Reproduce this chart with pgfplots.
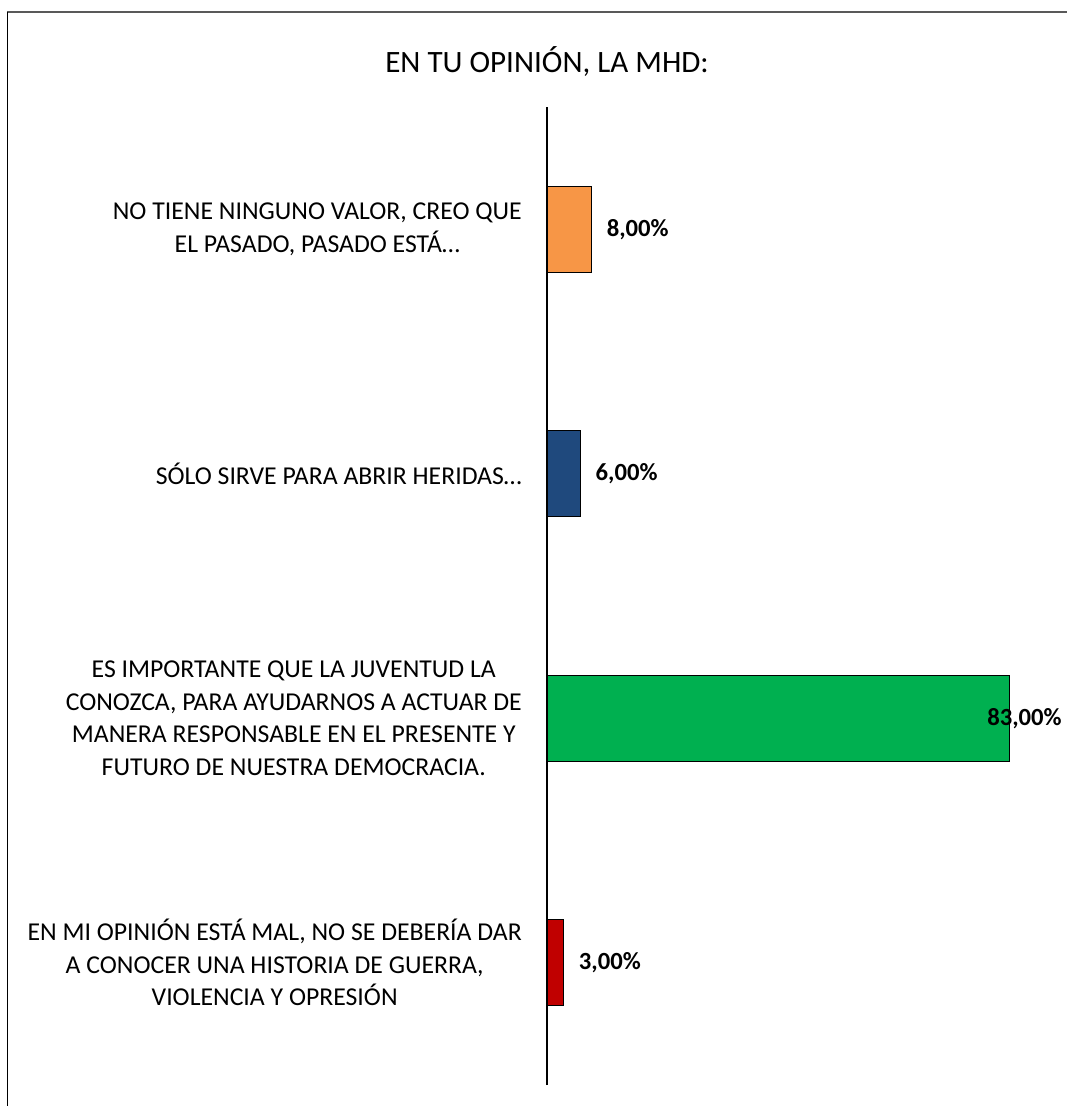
\documentclass[border=0pt]{standalone}
\usepackage{pgfplots}
\pgfplotsset{compat=1.18}
\usepackage{fontspec}
\setmainfont{Carlito}
\definecolor{cOrange}{HTML}{F79646}
\definecolor{cBlue}{HTML}{1F497D}
\definecolor{cGreen}{HTML}{00B050}
\definecolor{cRed}{HTML}{C00000}
\begin{document}
\begin{tikzpicture}[x=0.75pt,y=0.75pt]
\useasboundingbox (0,0) rectangle (1067,-1106);
\draw[gray!70!black, line width=1.2pt] (7,-12) -- (1067,-12);
\draw[black, line width=1.3pt] (7.5,-12) -- (7.5,-1106);
\node[font=\fontsize{23.3}{28}\selectfont] at (547,-62) {EN TU OPINIÓN, LA MHD:};
\begin{axis}[
  at={(410.25pt,-813.75pt)}, anchor=south west,
  scale only axis, width=376pt, height=733.5pt,
  xmin=0, xmax=90, ymin=-0.5, ymax=3.5,
  axis x line=none, axis y line*=left,
  y axis line style={-, black, line width=1.1pt},
  xbar, bar width=64.5pt,
  major tick length=0pt,
  ytick={0,1,2,3},
  yticklabels={
    {EN MI OPINIÓN ESTÁ MAL, NO SE DEBERÍA DAR\\A CONOCER UNA HISTORIA DE GUERRA,\\VIOLENCIA Y OPRESIÓN},
    {ES IMPORTANTE QUE LA JUVENTUD LA\\CONOZCA, PARA AYUDARNOS A ACTUAR DE\\MANERA RESPONSABLE EN EL PRESENTE Y\\FUTURO DE NUESTRA DEMOCRACIA.},
    {SÓLO SIRVE PARA ABRIR HERIDAS…},
    {NO TIENE NINGUNO VALOR, CREO QUE\\EL PASADO, PASADO ESTÁ…}},
  yticklabel style={align=center, anchor=east, inner sep=0pt, xshift=-18.75pt,
    font=\fontsize{19.3}{24.4}\selectfont},
  point meta=x,
  nodes near coords={\pgfmathprintnumber{\pgfplotspointmeta}\%},
  every node near coord/.append style={font=\bfseries\fontsize{18.5}{22}\selectfont, anchor=west, inner sep=0pt, xshift=11pt, text=black,
    /pgf/number format/fixed, /pgf/number format/fixed zerofill, /pgf/number format/precision=2, /pgf/number format/use comma, /pgf/number format/assume math mode=true},
]
\addplot[xbar, bar shift=0pt, fill=cRed, draw=black, line width=0.9pt] coordinates {(3,0)};
\addplot[xbar, bar shift=0pt, fill=cGreen, draw=black, line width=0.9pt,
  every node near coord/.append style={xshift=-28pt}] coordinates {(83,1)};
\addplot[xbar, bar shift=0pt, fill=cBlue, draw=black, line width=0.9pt] coordinates {(6,2)};
\addplot[xbar, bar shift=0pt, fill=cOrange, draw=black, line width=0.9pt] coordinates {(8,3)};
\end{axis}
\end{tikzpicture}
\end{document}
